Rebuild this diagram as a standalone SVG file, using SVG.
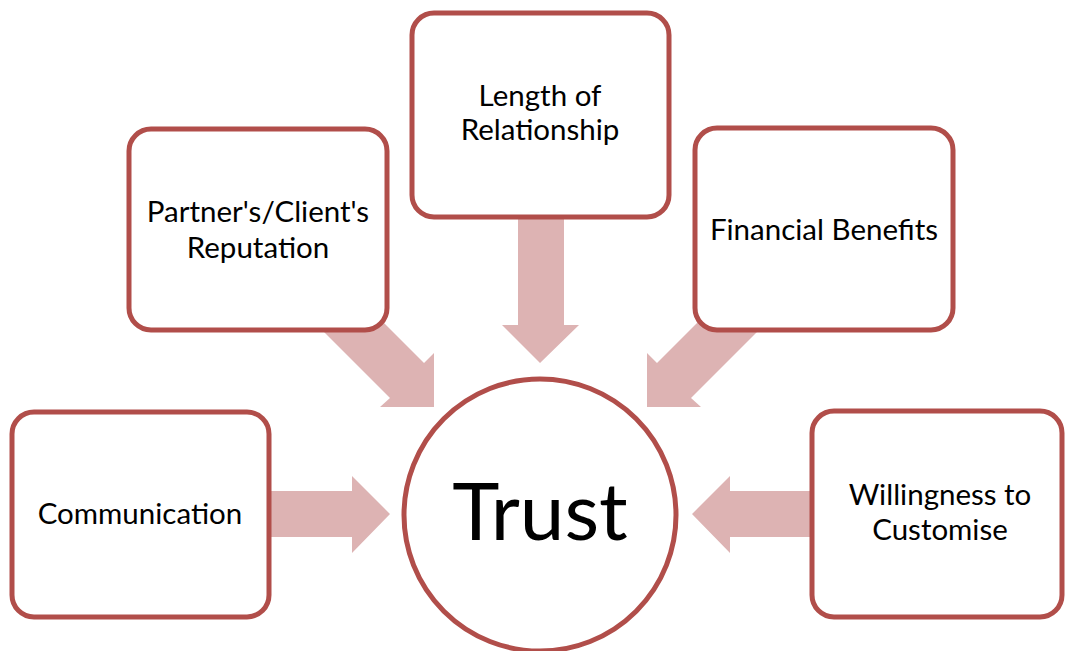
<svg xmlns="http://www.w3.org/2000/svg" width="1065" height="651" viewBox="0 0 1065 651">
  <style>
    .box { fill: #ffffff; stroke: #B14E4A; stroke-width: 5; }
    .hub { fill: #ffffff; stroke: #B14E4A; stroke-width: 5; }
    .arrow { fill: #DDB3B3; stroke: none; }
    .label { font-family: Lato, "Liberation Sans", sans-serif; font-size: 29.5px; fill: #000000; text-anchor: middle; }
    .big { font-family: Lato, "Liberation Sans", sans-serif; font-size: 80px; fill: #000000; text-anchor: middle; }
  </style>
  <rect width="1065" height="651" fill="#ffffff"/>

  <!-- block arrows pointing into the hub -->
  <g id="connectors">
    <!-- from Communication -->
    <polygon class="arrow" points="266,491 352,491 352,476 390,514 352,553 352,537 266,537"/>
    <!-- from Willingness to Customise -->
    <polygon class="arrow" points="815,491 730,491 730,476 692,514 730,553 730,537 815,537"/>
    <!-- from Length of Relationship -->
    <polygon class="arrow" points="518,215 564,215 564,325 579,325 540,363 502,325 518,325"/>
    <!-- from Partner's/Client's Reputation -->
    <polygon class="arrow" points="354,293 424,363 434,353 434,407 380,407 390,398 320,328"/>
    <!-- from Financial Benefits -->
    <polygon class="arrow" points="727,293 657,363 647,353 647,407 701,407 691,398 761,328"/>
  </g>

  <g id="node-length">
    <rect class="box" x="412" y="13" width="257" height="204" rx="22"/>
    <text class="label" x="540" y="106">Length of</text>
    <text class="label" x="540" y="140">Relationship</text>
  </g>

  <g id="node-reputation">
    <rect class="box" x="129" y="129" width="258" height="201" rx="22"/>
    <text class="label" x="258" y="222">Partner's/Client's</text>
    <text class="label" x="258" y="258">Reputation</text>
  </g>

  <g id="node-financial">
    <rect class="box" x="695" y="128" width="258" height="202" rx="22"/>
    <text class="label" x="824" y="240">Financial Benefits</text>
  </g>

  <g id="node-communication">
    <rect class="box" x="12" y="412" width="257" height="205" rx="22"/>
    <text class="label" x="140" y="524">Communication</text>
  </g>

  <g id="node-willingness">
    <rect class="box" x="812" y="411" width="250" height="206" rx="22"/>
    <text class="label" x="940" y="505">Willingness to</text>
    <text class="label" x="940" y="540">Customise</text>
  </g>

  <g id="node-trust">
    <circle class="hub" cx="540" cy="515" r="136"/>
    <text class="big" x="540" y="540">Trust</text>
  </g>
</svg>
